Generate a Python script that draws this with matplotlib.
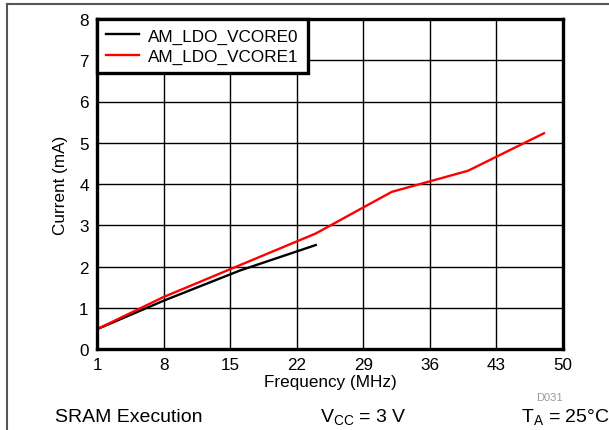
import matplotlib
matplotlib.use("Agg")
import matplotlib.pyplot as plt
from matplotlib.lines import Line2D

plt.rcParams['font.family'] = ['Liberation Sans', 'DejaVu Sans']

# Data
freq0 = [1, 8, 16, 24]
vcore0 = [0.48, 1.17, 1.90, 2.52]
freq1 = [1, 8, 16, 24, 32, 40, 48]
vcore1 = [0.48, 1.26, 2.03, 2.80, 3.81, 4.32, 5.23]
xticks = [1, 8, 15, 22, 29, 36, 43, 50]
yticks = [0, 1, 2, 3, 4, 5, 6, 7, 8]

fig = plt.figure(figsize=(6.09, 4.31), dpi=100)
ax = fig.add_axes([97 / 609, 1 - 350 / 431, 466 / 609, 330 / 431])

ax.plot(freq0, vcore0, color='black', linewidth=1.7, label='AM_LDO_VCORE0')
ax.plot(freq1, vcore1, color='#ff0000', linewidth=1.7, label='AM_LDO_VCORE1')

ax.set_xlim(1, 50)
ax.set_ylim(0, 8)
ax.set_xticks(xticks)
ax.set_yticks(yticks)
ax.tick_params(length=0, labelsize=12.3, pad=6)
ax.grid(True, color='black', linewidth=1.0)
ax.set_axisbelow(True)
for s in ax.spines.values():
    s.set_linewidth(2.4)

ax.set_xlabel('Frequency (MHz)', fontsize=12.3, labelpad=1)
ax.set_ylabel('Current (mA)', fontsize=12.3, labelpad=8)

leg = ax.legend(loc='upper left', fontsize=12.3, frameon=True, fancybox=False,
                borderpad=0.55, handlelength=1.9, handletextpad=0.55,
                labelspacing=0.3, borderaxespad=0)
leg.get_frame().set_edgecolor('black')
leg.get_frame().set_linewidth(2.4)
leg.get_frame().set_alpha(1)

# frame lines of the page
fig.add_artist(Line2D([7 / 609, 7 / 609], [0, 1 - 5 / 431], color='#555555', linewidth=1.5))
fig.add_artist(Line2D([7 / 609, 1], [1 - 5 / 431, 1 - 5 / 431], color='#555555', linewidth=1.5))

fig.text(563 / 609, 1 - 398 / 431, 'D031', fontsize=8, color='#999999',
         ha='right', va='center')
fig.text(55 / 609, 1 - 418 / 431, 'SRAM Execution', fontsize=14, va='center')
fig.text(320 / 609, 1 - 418 / 431, r'V$_\mathregular{CC}$ = 3 V', fontsize=14, va='center')
fig.text(521 / 609, 1 - 418 / 431, r'T$_\mathregular{A}$ = 25°C', fontsize=14, va='center')

fig.savefig('out.png', dpi=100)
